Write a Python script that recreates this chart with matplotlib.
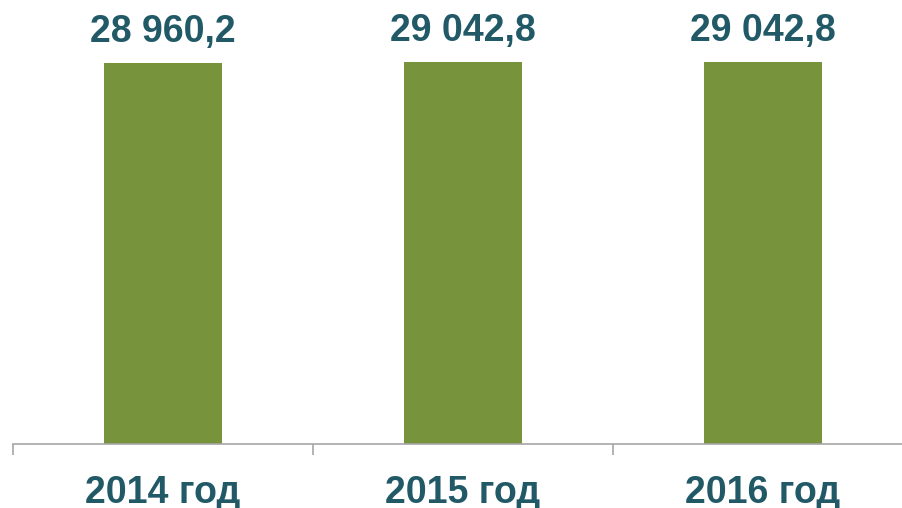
import matplotlib
matplotlib.use("Agg")
import matplotlib.pyplot as plt

categories = ["2014 год", "2015 год", "2016 год"]
values = [28960.2, 29042.8, 29042.8]
value_labels = ["28 960,2", "29 042,8", "29 042,8"]

plt.rcParams['font.family'] = ['Liberation Sans', 'DejaVu Sans']

fig = plt.figure(figsize=(9.02, 5.08), dpi=100)
ax = fig.add_axes([13/902, (508-444)/508, 900/902, 444/508])

x = list(range(len(categories)))
bars = ax.bar(x, values, width=0.393, color="#77933C")
ax.set_xlim(-0.5, len(categories) - 0.5)
ax.set_ylim(0, 33756)

for xi, v, lab in zip(x, values, value_labels):
    ax.annotate(lab, (xi, v), xytext=(0, 15), textcoords="offset points",
                ha="center", va="baseline", fontsize=27, fontweight="bold",
                color="#215967")

for s in ["top", "right", "left"]:
    ax.spines[s].set_visible(False)
ax.spines["bottom"].set_color("#A6A6A6")
ax.spines["bottom"].set_linewidth(1.2)
ax.set_yticks([])

ax.set_xticks([i - 0.5 for i in range(len(categories) + 1)])
ax.set_xticklabels([])
ax.tick_params(axis="x", which="major", length=8, width=1.2, color="#A6A6A6", direction="out")
ax.set_xticks(x, minor=True)
ax.set_xticklabels(categories, minor=True, fontsize=27, fontweight="bold", color="#215967")
ax.tick_params(axis="x", which="minor", length=0, pad=22)

fig.savefig("out.png", dpi=100)
